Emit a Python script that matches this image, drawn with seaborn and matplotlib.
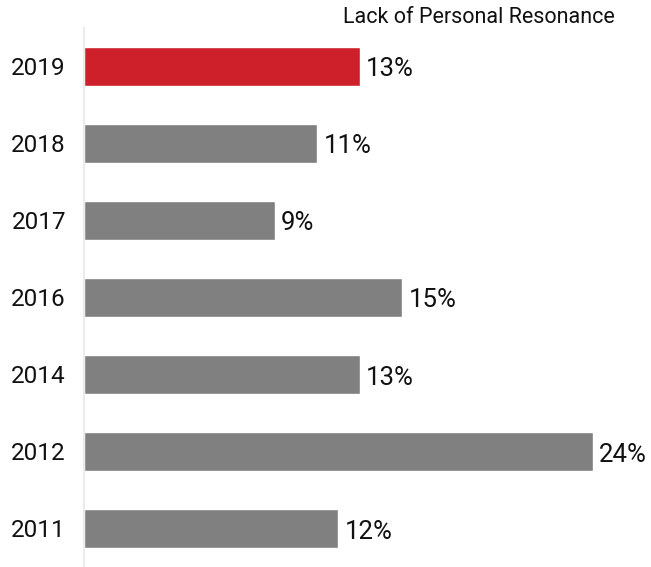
import pandas as pd
import matplotlib
matplotlib.use("Agg")
import matplotlib.pyplot as plt
import seaborn as sns

# data
years = ["2019", "2018", "2017", "2016", "2014", "2012", "2011"]
values = [13, 11, 9, 15, 13, 24, 12]
title = "Lack of Personal Resonance"

df = pd.DataFrame({"year": years, "value": values})
palette = {y: ("#CE202A" if y == "2019" else "#808080") for y in years}

sns.set_style("white")
plt.rcParams["font.family"] = ["Roboto", "DejaVu Sans"]

fig = plt.figure(figsize=(6.51, 5.67), dpi=100)
ax = fig.add_axes([0.129, 0.0, 0.85, 0.951])

sns.barplot(data=df, x="value", y="year", hue="year", palette=palette,
            order=years, orient="h", width=0.5, saturation=1, legend=False, ax=ax)

for i, v in enumerate(values):
    ax.text(v + 0.3, i + 0.04, f"{v}%", va="center", ha="left", fontsize=18.5, color="#111111")

ax.set_xlim(0, 26.1)
ax.set_ylim(6.5, -0.5)
ax.set_xlabel("")
ax.set_ylabel("")
ax.set_xticks([])
ax.tick_params(axis="y", length=0, labelsize=17.5, pad=13, labelcolor="#111111")
for lbl in ax.get_yticklabels():
    lbl.set_y(lbl.get_position()[1])
for s in ["top", "right", "bottom"]:
    ax.spines[s].set_visible(False)
ax.spines["left"].set_color("#ebebeb")
ax.spines["left"].set_linewidth(1.5)

fig.text(0.945, 0.97, title, ha="right", va="center", fontsize=15.5, color="#111111")

fig.savefig("out.png", dpi=100)
